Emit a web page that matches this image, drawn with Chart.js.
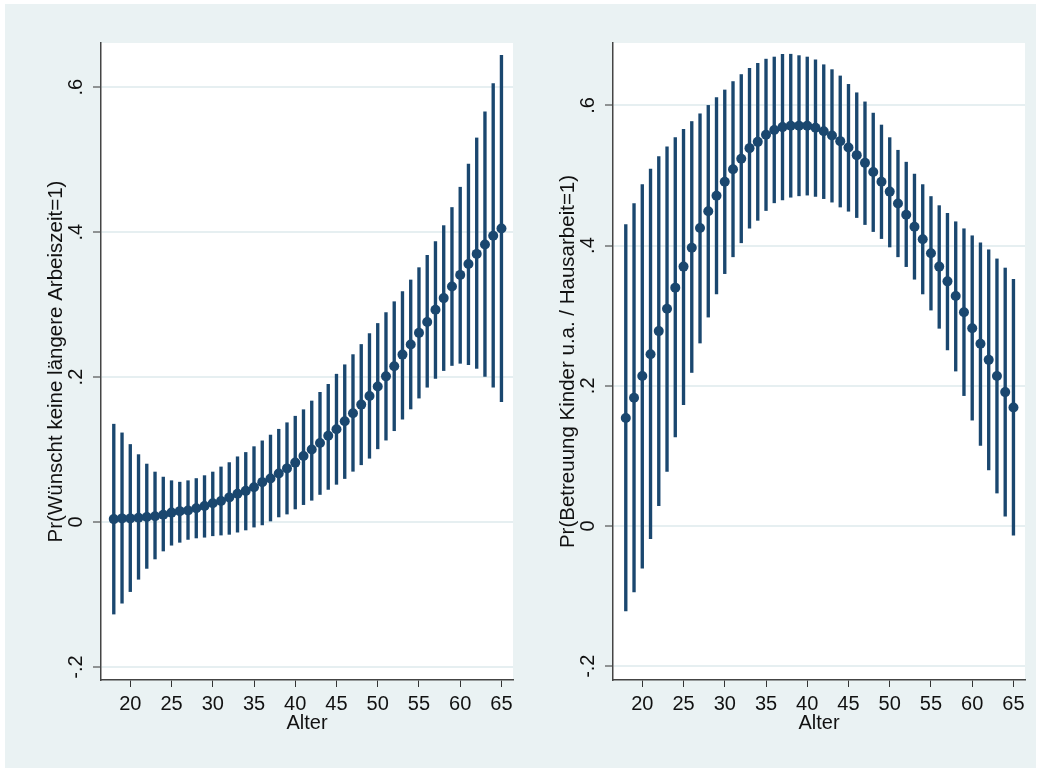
<!DOCTYPE html>
<html>
<head>
<meta charset="utf-8">
<script src="https://cdn.jsdelivr.net/npm/chart.js@4.4.1/dist/chart.umd.min.js"></script>
<style>
html, body { margin: 0; padding: 0; background: #ffffff; }
#frame { position: absolute; left: 5px; top: 4px; width: 1031px; height: 764px; background: #eaf2f3; }
.panel { position: absolute; top: 0; height: 764px; }
#p1 { left: 0; width: 515px; }
#p2 { left: 515px; width: 516px; }
</style>
</head>
<body>
<div id="frame">
  <div class="panel" id="p1"><canvas id="c1"></canvas></div>
  <div class="panel" id="p2"><canvas id="c2"></canvas></div>
</div>
<script>
// ages (x axis)
const ages = [18, 19, 20, 21, 22, 23, 24, 25, 26, 27,
              28, 29, 30, 31, 32, 33, 34, 35, 36, 37,
              38, 39, 40, 41, 42, 43, 44, 45, 46, 47,
              48, 49, 50, 51, 52, 53, 54, 55, 56, 57,
              58, 59, 60, 61, 62, 63, 64, 65];

// left panel: Pr(Wünscht keine längere Arbeiszeit=1)
const arbeitMid = [0.004, 0.005, 0.005, 0.006, 0.007, 0.008, 0.010, 0.013, 0.015, 0.016,
                   0.019, 0.022, 0.026, 0.029, 0.034, 0.039, 0.043, 0.048, 0.055, 0.060,
                   0.067, 0.074, 0.082, 0.091, 0.100, 0.109, 0.119, 0.128, 0.139, 0.150,
                   0.162, 0.174, 0.187, 0.201, 0.215, 0.231, 0.245, 0.261, 0.276, 0.293,
                   0.309, 0.325, 0.341, 0.356, 0.370, 0.383, 0.395, 0.405];
const arbeitLo = [-0.127, -0.112, -0.096, -0.079, -0.064, -0.051, -0.040, -0.032, -0.028, -0.024,
                  -0.022, -0.021, -0.019, -0.018, -0.017, -0.014, -0.011, -0.007, -0.004, 0.000,
                  0.007, 0.011, 0.018, 0.024, 0.030, 0.038, 0.045, 0.052, 0.060, 0.070,
                  0.079, 0.088, 0.101, 0.113, 0.126, 0.142, 0.156, 0.171, 0.186, 0.198,
                  0.209, 0.216, 0.219, 0.217, 0.212, 0.201, 0.186, 0.166];
const arbeitHi = [0.135, 0.123, 0.107, 0.093, 0.080, 0.069, 0.062, 0.057, 0.055, 0.057,
                  0.060, 0.064, 0.069, 0.076, 0.082, 0.090, 0.096, 0.104, 0.112, 0.120,
                  0.128, 0.137, 0.146, 0.155, 0.167, 0.179, 0.190, 0.204, 0.217, 0.231,
                  0.245, 0.260, 0.274, 0.289, 0.304, 0.318, 0.334, 0.351, 0.368, 0.387,
                  0.409, 0.434, 0.462, 0.494, 0.530, 0.566, 0.605, 0.644];

// right panel: Pr(Betreuung Kinder u.a. / Hausarbeit=1)
const betreuMid = [0.154, 0.183, 0.214, 0.245, 0.278, 0.310, 0.340, 0.370, 0.397, 0.425,
                   0.449, 0.471, 0.491, 0.509, 0.524, 0.539, 0.548, 0.558, 0.565, 0.569,
                   0.571, 0.571, 0.571, 0.568, 0.563, 0.557, 0.549, 0.540, 0.529, 0.518,
                   0.505, 0.491, 0.477, 0.460, 0.444, 0.427, 0.409, 0.389, 0.370, 0.349,
                   0.328, 0.305, 0.282, 0.260, 0.237, 0.214, 0.191, 0.169];
const betreuLo = [-0.121, -0.094, -0.060, -0.018, 0.029, 0.078, 0.127, 0.173, 0.219, 0.261,
                  0.298, 0.331, 0.360, 0.384, 0.404, 0.425, 0.436, 0.450, 0.461, 0.465,
                  0.469, 0.471, 0.472, 0.470, 0.467, 0.462, 0.455, 0.449, 0.440, 0.430,
                  0.420, 0.410, 0.398, 0.384, 0.370, 0.352, 0.331, 0.308, 0.282, 0.251,
                  0.221, 0.186, 0.151, 0.115, 0.080, 0.047, 0.014, -0.013];
const betreuHi = [0.430, 0.460, 0.487, 0.509, 0.527, 0.541, 0.554, 0.566, 0.577, 0.588,
                  0.600, 0.611, 0.622, 0.634, 0.644, 0.653, 0.660, 0.666, 0.669, 0.673,
                  0.673, 0.671, 0.669, 0.665, 0.658, 0.651, 0.642, 0.630, 0.618, 0.605,
                  0.589, 0.572, 0.554, 0.536, 0.519, 0.502, 0.487, 0.470, 0.457, 0.446,
                  0.434, 0.424, 0.414, 0.404, 0.394, 0.381, 0.368, 0.352];

const xTicks = [20, 25, 30, 35, 40, 45, 50, 55, 60, 65];
const yTicks = [-0.2, 0, 0.2, 0.4, 0.6];
const yTickLabels = ['-.2', '0', '.2', '.4', '.6'];

const navy = '#1a476f';
const FONT = '"Liberation Sans", Arial, Helvetica, sans-serif';
Chart.defaults.font.family = FONT;

// white plot region + rotated y labels, Stata style
const panelDecor = {
    id: 'panelDecor',
    beforeDraw(chart) {
        const {ctx, chartArea: a} = chart;
        ctx.save();
        ctx.fillStyle = '#ffffff';
        ctx.fillRect(a.left, a.top, a.right - a.left, a.bottom - a.top);
        ctx.restore();
    },
    afterDraw(chart, args, opts) {
        const {ctx, chartArea: a} = chart;
        const y = chart.scales.y;
        ctx.save();
        ctx.fillStyle = '#111111';
        ctx.textAlign = 'center';
        ctx.textBaseline = 'alphabetic';
        ctx.font = '20px ' + FONT;
        yTicks.forEach((v, i) => {
            const py = y.getPixelForValue(v);
            ctx.save();
            ctx.translate(a.left - 19, py);
            ctx.rotate(-Math.PI / 2);
            ctx.fillText(yTickLabels[i], 0, 0);
            ctx.restore();
        });
        ctx.font = '20.5px ' + FONT;
        ctx.translate(a.left - 39, (a.top + a.bottom) / 2);
        ctx.rotate(-Math.PI / 2);
        ctx.fillText(opts.title, 0, 0);
        ctx.restore();
    }
};

function makePanel(id, mid, lo, hi, yMin, yMax, title, yWidth, padRight) {
    new Chart(document.getElementById(id), {
        type: 'bar',
        data: {
            datasets: [
                {
                    type: 'scatter',
                    data: ages.map((a, i) => ({x: a, y: mid[i]})),
                    backgroundColor: navy,
                    borderColor: navy,
                    borderWidth: 0,
                    pointRadius: 5,
                    order: 0
                },
                {
                    type: 'bar',
                    data: ages.map((a, i) => ({x: a, y: [lo[i], hi[i]]})),
                    backgroundColor: navy,
                    borderWidth: 0,
                    barThickness: 2.7,
                    order: 1
                }
            ]
        },
        options: {
            responsive: true,
            maintainAspectRatio: false,
            animation: false,
            layout: {padding: {left: 0, top: 39, right: padRight, bottom: 0}},
            plugins: {
                legend: {display: false},
                tooltip: {enabled: false},
                panelDecor: {title: title}
            },
            scales: {
                x: {
                    type: 'linear',
                    min: 16.45,
                    max: 66.4,
                    offset: false,
                    afterBuildTicks: s => { s.ticks = xTicks.map(v => ({value: v})); },
                    afterFit: s => { s.height = 88; },
                    grid: {drawOnChartArea: false, offset: false, tickLength: 7, tickColor: '#333333', tickWidth: 1},
                    border: {color: '#444444', width: 1.5},
                    ticks: {font: {size: 20}, color: '#111111', padding: 5, maxRotation: 0, autoSkip: false},
                    title: {display: true, text: 'Alter', font: {size: 20}, color: '#111111', padding: {top: 0, bottom: 33}}
                },
                y: {
                    min: yMin,
                    max: yMax,
                    afterBuildTicks: s => { s.ticks = yTicks.map(v => ({value: v})); },
                    afterFit: s => { s.width = yWidth; },
                    grid: {color: '#e6eff1', lineWidth: 2, tickColor: '#333333', tickLength: 8, tickWidth: 1},
                    border: {color: '#444444', width: 1.5},
                    ticks: {display: false}
                }
            }
        },
        plugins: [panelDecor]
    });
}

makePanel('c1', arbeitMid, arbeitLo, arbeitHi, -0.218, 0.661,
          'Pr(Wünscht keine längere Arbeiszeit=1)', 96, 7);
makePanel('c2', betreuMid, betreuLo, betreuHi, -0.2197, 0.689,
          'Pr(Betreuung Kinder u.a. / Hausarbeit=1)', 93, 11);
</script>
</body>
</html>
